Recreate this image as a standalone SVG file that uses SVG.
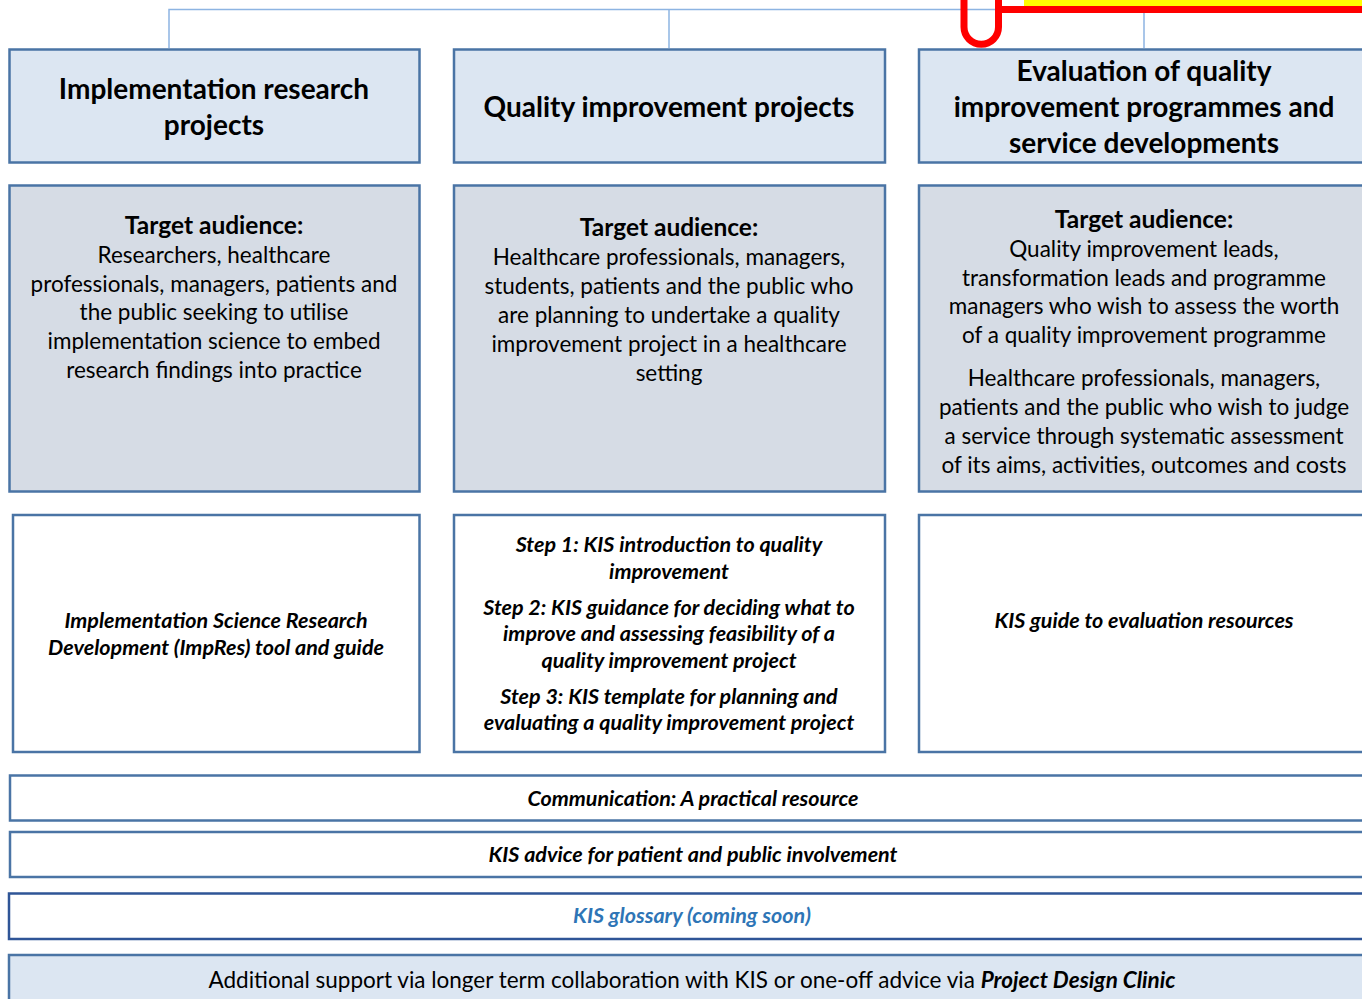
<svg xmlns="http://www.w3.org/2000/svg" width="1362" height="999" viewBox="0 0 1362 999">
  <style>
    .hdr { fill: #dce6f2; stroke: #4a74a5; stroke-width: 2.5; }
    .aud { fill: #d6dce5; stroke: #4a74a5; stroke-width: 2.5; }
    .res { fill: #ffffff; stroke: #4a74a5; stroke-width: 2.5; }
    .bar { fill: #ffffff; stroke: #4a74a5; stroke-width: 2.5; }
    .bar-dark { fill: #ffffff; stroke: #2f5597; stroke-width: 2.5; }
    .bar-blue { fill: #dce6f2; stroke: #4a74a5; stroke-width: 2.5; }
    .link { fill: none; stroke: #8db4e2; stroke-width: 1.5; }
    text { font-family: Lato, "Open Sans", "Liberation Sans", sans-serif; fill: #000000; text-anchor: middle; }
    .h { font-size: 28px; font-weight: bold; }
    .t { font-size: 22.5px; }
    .tb { font-size: 24.5px; font-weight: bold; }
    .i { font-size: 21.5px; font-weight: bold; font-style: italic; }
    .link-text { fill: #2e75b6; }
  </style>

  <!-- tree connectors above the three column headers -->
  <g id="connectors">
    <path class="link" d="M169,48 V9.5 H1144 V48"/>
    <path class="link" d="M669,9.5 V48"/>
  </g>

  <!-- red/yellow highlight mark at the top right -->
  <g id="highlight">
    <rect x="1024" y="0" width="338" height="6" fill="#ffff00"/>
    <path d="M964,0 V27 A17.25,17.25 0 0 0 998.5,27 V0" fill="none" stroke="#ff0000" stroke-width="7"/>
    <path d="M998,9.5 H1362" fill="none" stroke="#ff0000" stroke-width="7"/>
  </g>

  <!-- column 1 -->
  <g id="col1-header">
    <rect class="hdr" x="9.5" y="49.5" width="410" height="113"/>
    <text class="h" x="214" y="99">Implementation research</text>
    <text class="h" x="214" y="135">projects</text>
  </g>
  <g id="col1-audience">
    <rect class="aud" x="9.5" y="185.5" width="410" height="306"/>
    <text class="tb" x="214" y="234">Target audience:</text>
    <text class="t" x="214" y="263">Researchers, healthcare</text>
    <text class="t" x="214" y="292">professionals, managers, patients and</text>
    <text class="t" x="214" y="320">the public seeking to utilise</text>
    <text class="t" x="214" y="349">implementation science to embed</text>
    <text class="t" x="214" y="378">research findings into practice</text>
  </g>
  <g id="col1-resource">
    <rect class="res" x="13" y="515" width="406.5" height="237"/>
    <text class="i" x="216" y="628">Implementation Science Research</text>
    <text class="i" x="216" y="655">Development (ImpRes) tool and guide</text>
  </g>

  <!-- column 2 -->
  <g id="col2-header">
    <rect class="hdr" x="454" y="49.5" width="431" height="113"/>
    <text class="h" x="669" y="117">Quality improvement projects</text>
  </g>
  <g id="col2-audience">
    <rect class="aud" x="454" y="185.5" width="431" height="306"/>
    <text class="tb" x="669" y="236">Target audience:</text>
    <text class="t" x="669" y="265">Healthcare professionals, managers,</text>
    <text class="t" x="669" y="294">students, patients and the public who</text>
    <text class="t" x="669" y="323">are planning to undertake a quality</text>
    <text class="t" x="669" y="352">improvement project in a healthcare</text>
    <text class="t" x="669" y="381">setting</text>
  </g>
  <g id="col2-resource">
    <rect class="res" x="454" y="515" width="431" height="237"/>
    <text class="i" x="669" y="552">Step 1: KIS introduction to quality</text>
    <text class="i" x="669" y="579">improvement</text>
    <text class="i" x="669" y="615">Step 2: KIS guidance for deciding what to</text>
    <text class="i" x="669" y="641">improve and assessing feasibility of a</text>
    <text class="i" x="669" y="668">quality improvement project</text>
    <text class="i" x="669" y="704">Step 3: KIS template for planning and</text>
    <text class="i" x="669" y="730">evaluating a quality improvement project</text>
  </g>

  <!-- column 3 -->
  <g id="col3-header">
    <rect class="hdr" x="919" y="49.5" width="460" height="113"/>
    <text class="h" x="1144" y="81">Evaluation of quality</text>
    <text class="h" x="1144" y="117">improvement programmes and</text>
    <text class="h" x="1144" y="153">service developments</text>
  </g>
  <g id="col3-audience">
    <rect class="aud" x="919" y="185.5" width="460" height="306"/>
    <text class="tb" x="1144" y="228">Target audience:</text>
    <text class="t" x="1144" y="257">Quality improvement leads,</text>
    <text class="t" x="1144" y="286">transformation leads and programme</text>
    <text class="t" x="1144" y="314">managers who wish to assess the worth</text>
    <text class="t" x="1144" y="343">of a quality improvement programme</text>
    <text class="t" x="1144" y="386">Healthcare professionals, managers,</text>
    <text class="t" x="1144" y="415">patients and the public who wish to judge</text>
    <text class="t" x="1144" y="444">a service through systematic assessment</text>
    <text class="t" x="1144" y="473">of its aims, activities, outcomes and costs</text>
  </g>
  <g id="col3-resource">
    <rect class="res" x="919" y="515" width="460" height="237"/>
    <text class="i" x="1144" y="628">KIS guide to evaluation resources</text>
  </g>

  <!-- shared resources across all columns -->
  <g id="communication">
    <rect class="bar" x="10" y="775.5" width="1370" height="45"/>
    <text class="i" x="693" y="806">Communication: A practical resource</text>
  </g>
  <g id="ppi-advice">
    <rect class="bar" x="10" y="832" width="1370" height="45"/>
    <text class="i" x="693" y="862">KIS advice for patient and public involvement</text>
  </g>
  <g id="glossary">
    <rect class="bar-dark" x="9" y="893.5" width="1370" height="45.5"/>
    <text class="i link-text" x="692" y="923">KIS glossary (coming soon)</text>
  </g>
  <g id="additional-support">
    <rect class="bar-blue" x="9" y="955" width="1370" height="60"/>
    <text class="t" x="692" y="988">Additional support via longer term collaboration with KIS or one-off advice via <tspan font-weight="bold" font-style="italic">Project Design Clinic</tspan></text>
  </g>
</svg>
